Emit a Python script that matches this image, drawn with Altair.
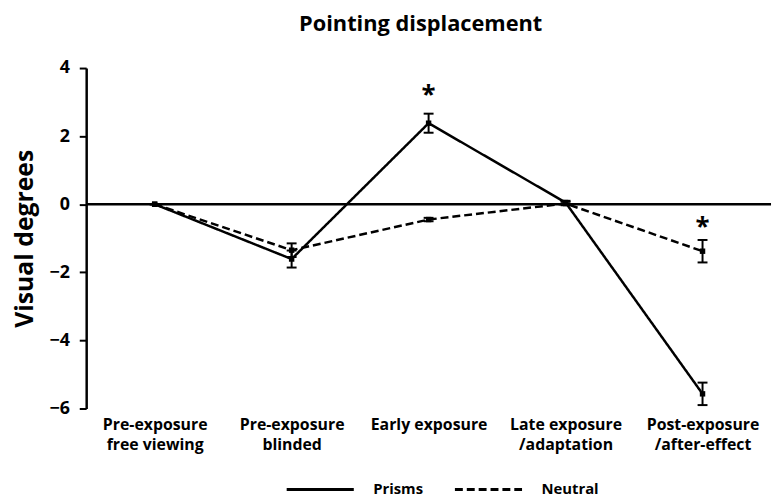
import altair as alt
import pandas as pd

FONT = "Open Sans"

phases = ["Pre-exposure|free viewing", "Pre-exposure|blinded", "Early exposure",
          "Late exposure|/adaptation", "Post-exposure|/after-effect"]
groups = ["Prisms", "Neutral"]
prisms_mean = [0.0, -1.61, 2.38, 0.05, -5.57]
prisms_err = [0.0, 0.25, 0.28, 0.05, 0.33]
neutral_mean = [0.0, -1.35, -0.45, 0.02, -1.38]
neutral_err = [0.0, 0.2, 0.05, 0.05, 0.33]
star_phase = ["Early exposure", "Post-exposure|/after-effect"]
star_y = [3.36, -0.53]
y_ticks = [-6, -4, -2, 0, 2, 4]

rows = []
for g, means, errs in [("Prisms", prisms_mean, prisms_err), ("Neutral", neutral_mean, neutral_err)]:
    for p, m, e in zip(phases, means, errs):
        rows.append({"phase": p, "group": g, "mean": m, "lo": m - e, "hi": m + e})
df = pd.DataFrame(rows)
stars = pd.DataFrame({"phase": star_phase, "y": star_y})
zero = pd.DataFrame({"y": [0]})

x = alt.X("phase:N", sort=phases,
          scale=alt.Scale(type="point", padding=0.5),
          axis=alt.Axis(title=None, labelAngle=0, domain=False, ticks=False,
                        labelExpr="split(datum.label, '|')",
                        labelFontSize=16, labelFontWeight="bold", labelFont=FONT,
                        labelColor="black", labelPadding=8, labelLineHeight=20,
                        labelBaseline="top"))
yscale = alt.Scale(domain=[-6, 4], nice=False)
y = alt.Y("mean:Q", scale=yscale,
          axis=alt.Axis(values=y_ticks, title="Visual degrees", grid=False,
                        tickSize=7, tickWidth=2, tickColor="black",
                        domainWidth=2.5, domainColor="black",
                        labelFontSize=18, labelFontWeight="bold", labelFont=FONT,
                        labelColor="black", labelPadding=10,
                        titleFontSize=25, titleFontWeight="bold", titleFont=FONT,
                        titleColor="black", titlePadding=12))

base = alt.Chart(df)

zero_line = alt.Chart(zero).mark_rule(strokeWidth=2.5, color="black").encode(
    y=alt.Y("y:Q", scale=yscale))

lines = base.mark_line(strokeWidth=2.5, color="black").encode(
    x=x, y=y,
    strokeDash=alt.StrokeDash("group:N", sort=groups,
                              scale=alt.Scale(domain=groups, range=[[1, 0], [8, 4]]),
                              legend=alt.Legend(title=None, orient="none", direction="horizontal",
                                                legendX=201, legendY=390, padding=0,
                                                symbolType="stroke", symbolSize=4600,
                                                symbolStrokeWidth=3, symbolStrokeColor="black",
                                                labelFontSize=15, labelFontWeight="bold",
                                                labelFont=FONT, labelColor="black",
                                                labelOffset=18, columnPadding=25)))

points = base.mark_square(size=30, color="black", opacity=1).encode(x=x, y=y)

err_rule = base.mark_rule(strokeWidth=2, color="black").encode(
    x=x, y=alt.Y("lo:Q", scale=yscale), y2="hi:Q")
cap_lo = base.mark_tick(size=10, thickness=2, color="black", opacity=1).encode(
    x=x, y=alt.Y("lo:Q", scale=yscale))
cap_hi = base.mark_tick(size=10, thickness=2, color="black", opacity=1).encode(
    x=x, y=alt.Y("hi:Q", scale=yscale))

star_marks = alt.Chart(stars).mark_text(text="*", fontSize=26, fontWeight="bold",
                                        font=FONT, color="black", baseline="middle",
                                        dy=5).encode(
    x=alt.X("phase:N", sort=phases), y=alt.Y("y:Q", scale=yscale))

chart = alt.layer(zero_line, lines, err_rule, cap_lo, cap_hi, points, star_marks).properties(
    width=692, height=344,
    autosize=alt.AutoSizeParams(type="none"),
    padding={"left": 79, "top": 58, "right": 2, "bottom": 110},
    title=alt.TitleParams("Pointing displacement", fontSize=22, fontWeight="bold",
                          font=FONT, color="black", offset=23, dx=-8),
).configure_view(stroke=None)

chart.save("out.html", embed_options={"renderer": "svg", "actions": False})
